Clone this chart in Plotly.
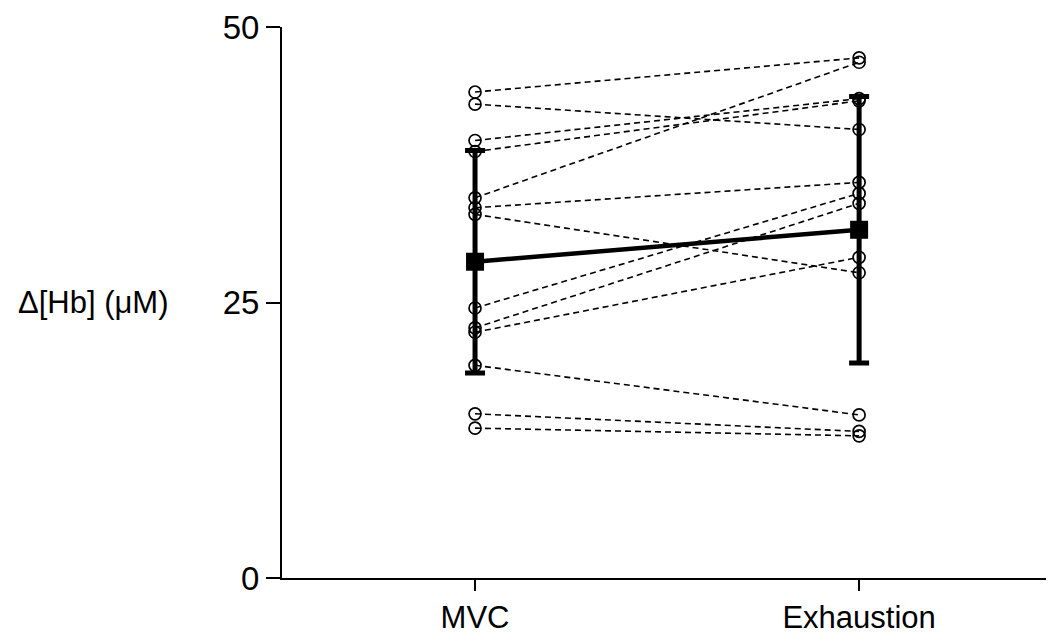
import plotly.graph_objects as go

# Data
conditions = ["MVC", "Exhaustion"]
mvc_vals = [44.1, 43.0, 39.7, 38.7, 34.5, 33.6, 33.0, 24.5, 22.7, 22.3, 19.3, 14.9, 13.6]
exh_vals = [47.2, 40.7, 43.5, 43.3, 46.8, 35.9, 27.7, 34.9, 34.0, 29.1, 14.8, 13.3, 12.9]
mean_vals = [28.7, 31.6]
sd_vals = [10.1, 12.1]
y_ticks = [0, 25, 50]

FONT = "Arial, Liberation Sans, Helvetica, sans-serif"
xpos = [0, 1]

fig = go.Figure()

for a, b in zip(mvc_vals, exh_vals):
    fig.add_trace(go.Scatter(
        x=xpos, y=[a, b], mode="lines+markers",
        line=dict(color="black", width=1.6, dash="6px,4px"),
        marker=dict(symbol="circle-open", size=12, color="black", line=dict(width=1.7)),
        showlegend=False, hoverinfo="skip", cliponaxis=False,
    ))

fig.add_trace(go.Scatter(
    x=xpos, y=mean_vals, mode="lines+markers",
    line=dict(color="black", width=4.5),
    marker=dict(symbol="square", size=18, color="black"),
    error_y=dict(type="data", array=sd_vals, color="black", thickness=5, width=10),
    showlegend=False, cliponaxis=False,
))

# page body adds an 8px offset, so the figure is sized/placed to compensate
fig.update_layout(
    width=1046, height=629,
    margin=dict(l=274, r=4, t=19, b=59),
    paper_bgcolor="white", plot_bgcolor="white",
    font=dict(family=FONT, color="black"),
    xaxis=dict(
        range=[-0.5026, 1.497], tickmode="array", tickvals=xpos, ticktext=conditions,
        showgrid=False, zeroline=False, showline=True, linecolor="black", linewidth=2,
        ticks="outside", ticklen=11, tickwidth=2, tickcolor="black",
        tickfont=dict(size=31, family=FONT, color="black"), automargin=False,
    ),
    yaxis=dict(
        range=[0, 50], tickmode="array", tickvals=y_ticks,
        showgrid=False, zeroline=False, showline=True, linecolor="black", linewidth=2,
        ticks="outside", ticklen=14, tickwidth=2, tickcolor="black",
        tickfont=dict(size=33, family=FONT, color="black"), automargin=False,
    ),
    annotations=[dict(
        text="Δ[Hb] (μM)", xref="paper", yref="y", x=-0.2454, y=25,
        xanchor="center", yanchor="middle", showarrow=False,
        font=dict(size=31, family=FONT, color="black"),
    )],
)

fig.write_html("out.html")
